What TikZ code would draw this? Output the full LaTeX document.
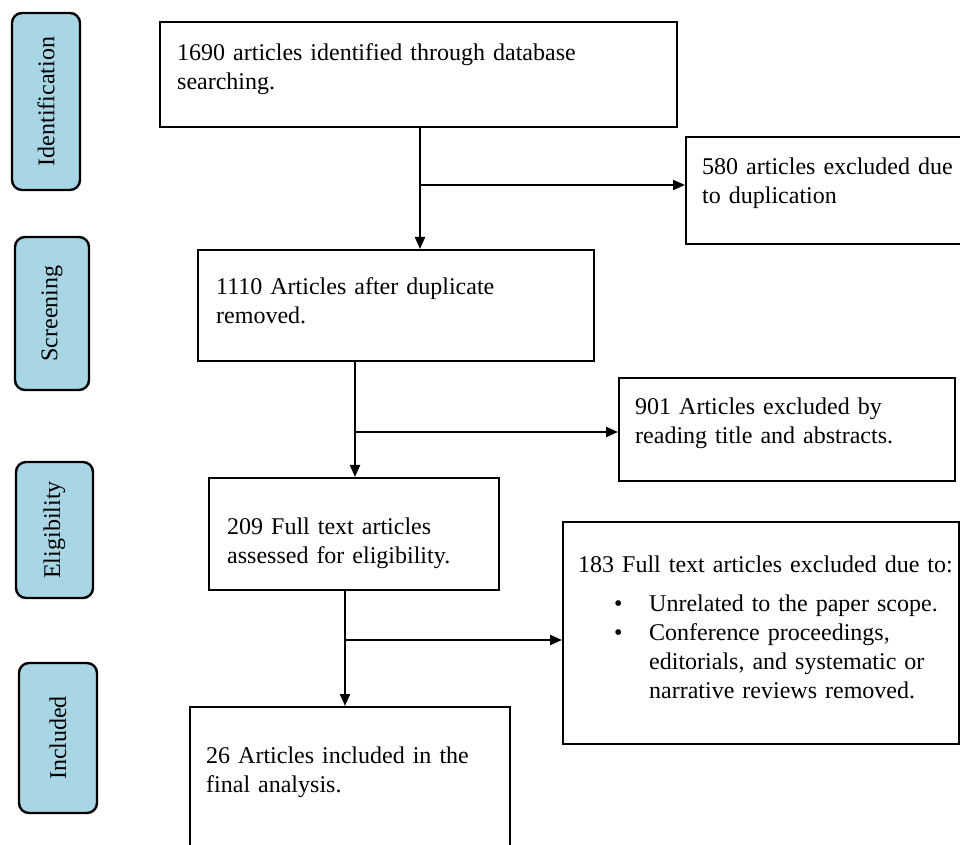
\documentclass[tikz,border=0pt]{standalone}
\usepackage{fontspec}
\setmainfont{Liberation Serif}
\usetikzlibrary{arrows.meta}
\definecolor{stagefill}{RGB}{168,214,228}

\begin{document}
\begin{tikzpicture}[x=0.5pt, y=-0.5pt,
        font=\fontsize{12}{14.5}\selectfont,
        box/.style={draw, line width=1.2pt, anchor=north west, align=left, inner ysep=0pt},
        stage/.style={draw, line width=1.2pt, rounded corners=5pt, fill=stagefill, rotate=90, inner sep=0pt},
        flow/.style={line width=1pt, -{Triangle[length=6pt, width=5pt]}}]
    \useasboundingbox (0,0) rectangle (960,845);
    \clip (0,0) rectangle (960,845);
    % stages
    \node [stage, minimum width=88.5pt, minimum height=34pt] (stident) at (46,101.5) {Identification};
    \node [stage, minimum width=76.5pt, minimum height=37pt] (stscreen) at (52,313.5) {Screening};
    \node [stage, minimum width=68pt, minimum height=38.5pt] (stelig) at (54.5,530) {Eligibility};
    \node [stage, minimum width=75pt, minimum height=39pt] (stincl) at (58,738) {Included};
    % boxes
    \node [box, inner xsep=8.5pt, text width=241.5pt, text height=19pt, text depth=33.5pt] (found) at (159,21)
        {1690 articles identified through database\\searching.};
    \node [box, inner xsep=8pt, text width=129pt, text height=18.5pt, text depth=35pt] (dupl) at (685,136)
        {580 articles excluded due\\to duplication};
    \node [box, inner xsep=9pt, text width=180pt, text height=22pt, text depth=33.5pt] (unique) at (197,249)
        {1110 Articles after duplicate\\removed.};
    \node [box, inner xsep=8pt, text width=152pt, text height=18pt, text depth=33.5pt] (titleout) at (618,377)
        {901 Articles excluded by\\reading title and abstracts.};
    \node [box, inner xsep=9pt, text width=127pt, text height=28pt, text depth=28pt] (fulltext) at (208,477)
        {209 Full text articles\\assessed for eligibility.};
    \node [box, inner xsep=7.5pt, text width=183pt, text height=25pt, text depth=86pt] (fullout) at (562,521)
        {\mbox{183 Full text articles excluded due to:}\\[5pt]
         \hspace*{18pt}\makebox[17.5pt][l]{\textbullet}Unrelated to the paper scope.\\
         \hspace*{18pt}\makebox[17.5pt][l]{\textbullet}Conference proceedings,\\
         \hspace*{35.5pt}editorials, and systematic or\\
         \hspace*{35.5pt}narrative reviews removed.};
    \node [box, inner xsep=8pt, text width=144pt, text height=28pt, text depth=54pt] (final) at (189,706)
        {26 Articles included in the\\final analysis.};
    % connectors
    \coordinate (split1) at (420,185);
    \coordinate (split2) at (355,432);
    \coordinate (split3) at (345,640);
    \draw [flow] (found.south -| split1) -- (unique.north -| split1);
    \draw [flow] (split1) -- (split1 -| dupl.west);
    \draw [flow] (unique.south -| split2) -- (fulltext.north -| split2);
    \draw [flow] (split2) -- (split2 -| titleout.west);
    \draw [flow] (fulltext.south -| split3) -- (final.north -| split3);
    \draw [flow] (split3) -- (split3 -| fullout.west);
\end{tikzpicture}
\end{document}
